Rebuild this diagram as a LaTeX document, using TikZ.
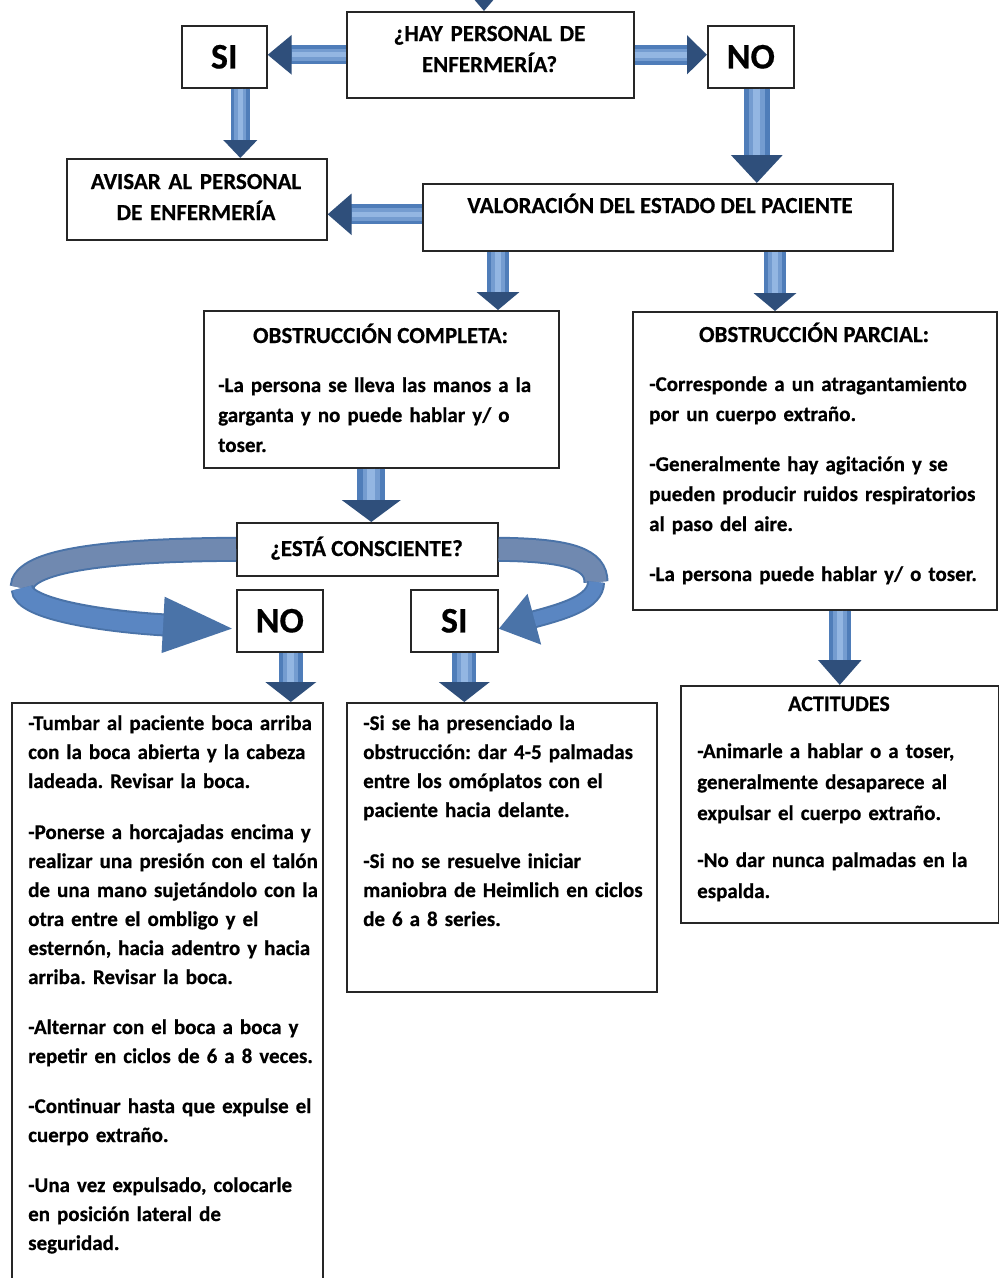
\documentclass[tikz,border=0pt]{standalone}
\usepackage{fontspec}
\setmainfont{Carlito}[BoldFeatures={FakeBold=0.5}]
\frenchspacing
\usetikzlibrary{arrows.meta,calc}
\definecolor{arrmid}{HTML}{4F7DB9}
\definecolor{arrlight}{HTML}{93B6E2}
\definecolor{arrdark}{HTML}{2F4F7B}
\definecolor{backband}{HTML}{7089B0}
\definecolor{frontband}{HTML}{5A86C2}
\definecolor{bandedge}{HTML}{4A73A8}
\newcommand\blk[5]{%
  \pgfmathsetmacro\wa{#3*0.62}\pgfmathsetmacro\wb{#3*0.28}%
  \draw[line width=#3pt, draw=arrmid, -{Triangle[width=#4pt,length=#5pt,color=arrdark]}] #1 -- #2;
  \draw[line width=\wa pt, draw=arrmid!45!arrlight, shorten >=#5pt] #1 -- #2;
  \draw[line width=\wb pt, draw=arrlight, shorten >=#5pt] #1 -- #2;
}
\tikzset{
  box/.style={draw=black!85, line width=1.6pt, fill=white, inner sep=0pt, anchor=north west},
  title/.style={font=\bfseries\fontsize{23}{31}\selectfont, align=center, inner sep=0pt, anchor=base},
  body/.style={font=\bfseries\fontsize{21}{29}\selectfont, align=left, inner sep=0pt, anchor=base west},
  yesno/.style={font=\bfseries\fontsize{36}{40}\selectfont},
}
\begin{document}
\begin{tikzpicture}[x=1pt,y=-1pt]
\useasboundingbox (0,0) rectangle (999,1278);
\clip (0,0) rectangle (999,1278);
\fill[white] (0,0) rectangle (999,1278);

% boxes
\node[box, minimum width=287, minimum height=86] (hay) at (346,11) {};
\node[title, text width=280] (hayt) at (489.5,41) {¿HAY PERSONAL DE\\ENFERMERÍA?};
\node[box, yesno, minimum width=85, minimum height=62] (si1) at (181,25) {SI};
\node[box, yesno, minimum width=86, minimum height=62] (no1) at (707,25) {NO};
\node[box, minimum width=260, minimum height=81] (avisar) at (66,158) {};
\node[title, text width=255] (avisart) at (196,189) {AVISAR AL PERSONAL\\DE ENFERMERÍA};
\node[box, minimum width=470, minimum height=67] (val) at (422,183) {};
\node[title] (valt) at (660,213) {VALORACIÓN DEL ESTADO DEL PACIENTE};

\node[box, minimum width=355, minimum height=157] (comp) at (203,310) {};
\node[title] (compt) at (380.5,343) {OBSTRUCCIÓN COMPLETA:};
\node[body, font=\bfseries\fontsize{21}{30}\selectfont, text width=335] (compb) at (218,392)
  {-La persona se lleva las manos a la\\ garganta y no puede hablar y/ o\\ toser.};

\node[box, minimum width=364, minimum height=298] (parc) at (632,311) {};
\node[title] (parct) at (814,342) {OBSTRUCCIÓN PARCIAL:};
\node[body, font=\bfseries\fontsize{21}{30}\selectfont, text width=345] (parcb) at (649,391)
  {-Corresponde a un atragantamiento\\ por un cuerpo extraño.\\[20pt]
   -Generalmente hay agitación y se\\ pueden producir ruidos respiratorios\\ al paso del aire.\\[20pt]
   -La persona puede hablar y/ o toser.};

\node[box, minimum width=261, minimum height=53] (esta) at (236,522) {};
\node[title] (estat) at (366.5,556) {¿ESTÁ CONSCIENTE?};

\node[box, minimum width=318, minimum height=237] (act) at (680,685) {};
\node[title, font=\bfseries\fontsize{22}{30}\selectfont] (actt) at (839,711) {ACTITUDES};
\node[body, font=\bfseries\fontsize{21}{31}\selectfont, text width=295] (actb) at (697,758)
  {-Animarle a hablar o a toser,\\ generalmente desaparece al\\ expulsar el cuerpo extraño.\\[16pt]
   -No dar nunca palmadas en la\\ espalda.};

\node[box, yesno, minimum width=86, minimum height=62] (no2) at (236,589) {NO};
\node[box, yesno, minimum width=87, minimum height=62] (si2) at (410,589) {SI};

% curved ribbon arrows
\coordinate (lturn) at (22,588);
\coordinate (rturn) at (596,582);
\draw[line width=25pt, draw=bandedge] (esta.west) .. controls (110,550) and (22,560) .. (lturn);
\draw[line width=21pt, draw=backband] (esta.west) .. controls (110,550) and (22,560) .. (lturn);
\draw[line width=23pt, draw=bandedge, -{Triangle[width=50pt,length=73pt,color=bandedge]}]
  (lturn) .. controls (22,610) and (110,622) .. ([yshift=-8pt]no2.west);
\draw[line width=19pt, draw=frontband, shorten >=73pt]
  (lturn) .. controls (22,610) and (110,622) .. ([yshift=-8pt]no2.west);
\draw[line width=25pt, draw=bandedge] (esta.east) .. controls (572,550) and (596,560) .. (rturn);
\draw[line width=21pt, draw=backband] (esta.east) .. controls (572,550) and (596,560) .. (rturn);
\draw[line width=18pt, draw=bandedge, -{Triangle[width=50pt,length=37pt,color=bandedge]}]
  (rturn) .. controls (596,602) and (565,611) .. ([yshift=-8pt]si2.east);
\draw[line width=14pt, draw=frontband, shorten >=37pt]
  (rturn) .. controls (596,602) and (565,611) .. ([yshift=-8pt]si2.east);

\node[box, minimum width=311, minimum height=640] (izq) at (11,702) {};
\node[body, text width=300] (izqb) at (28,730)
  {-Tumbar al paciente boca arriba\\ con la boca abierta y la cabeza\\ ladeada. Revisar la boca.\\[22pt]
   -Ponerse a horcajadas encima y\\ realizar una presión con el talón\\ de una mano sujetándolo con la\\ otra entre el ombligo y el\\ esternón, hacia adentro y hacia\\ arriba. Revisar la boca.\\[21pt]
   -Alternar con el boca a boca y\\ repetir en ciclos de 6 a 8 veces.\\[21pt]
   -Continuar hasta que expulse el\\ cuerpo extraño.\\[21pt]
   -Una vez expulsado, colocarle\\ en posición lateral de\\ seguridad.};
\node[box, minimum width=310, minimum height=289] (med) at (346,702) {};
\node[body, text width=300] (medb) at (363,730)
  {-Si se ha presenciado la\\ obstrucción: dar 4-5 palmadas\\ entre los omóplatos con el\\ paciente hacia delante.\\[22pt]
   -Si no se resuelve iniciar\\ maniobra de Heimlich en ciclos\\ de 6 a 8 series.};

% block arrows
\coordinate (topin) at (484,-20);
\blk{(topin)}{(topin |- hay.north)}{8}{18}{11}
\blk{(hay.west)}{(hay.west -| si1.east)}{19}{38}{24}
\blk{(hay.east)}{(hay.east -| no1.west)}{20}{38}{20}
\blk{([xshift=16pt]si1.south)}{([xshift=16pt]si1.south |- avisar.north)}{19}{33}{18}
\blk{([xshift=6pt]no1.south)}{([xshift=6pt]no1.south |- val.north)}{26}{50}{28}
\blk{([yshift=3pt]val.west)}{([yshift=3pt]val.west -| avisar.east)}{20}{40}{24}
\blk{([xshift=76pt]val.south west)}{([xshift=76pt]val.south west |- comp.north)}{22}{42}{18}
\blk{([xshift=353pt]val.south west)}{([xshift=353pt]val.south west |- parc.north)}{22}{42}{18}
\blk{([xshift=-10pt]comp.south)}{([xshift=-10pt]comp.south |- esta.north)}{28}{58}{22}
\blk{([xshift=11pt]no2.south)}{([xshift=11pt]no2.south |- izq.north)}{24}{50}{20}
\blk{([xshift=10pt]si2.south)}{([xshift=10pt]si2.south |- med.north)}{24}{50}{20}
\blk{(parc.south -| act.north)}{(act.north)}{22}{42}{25}
\end{tikzpicture}
\end{document}
